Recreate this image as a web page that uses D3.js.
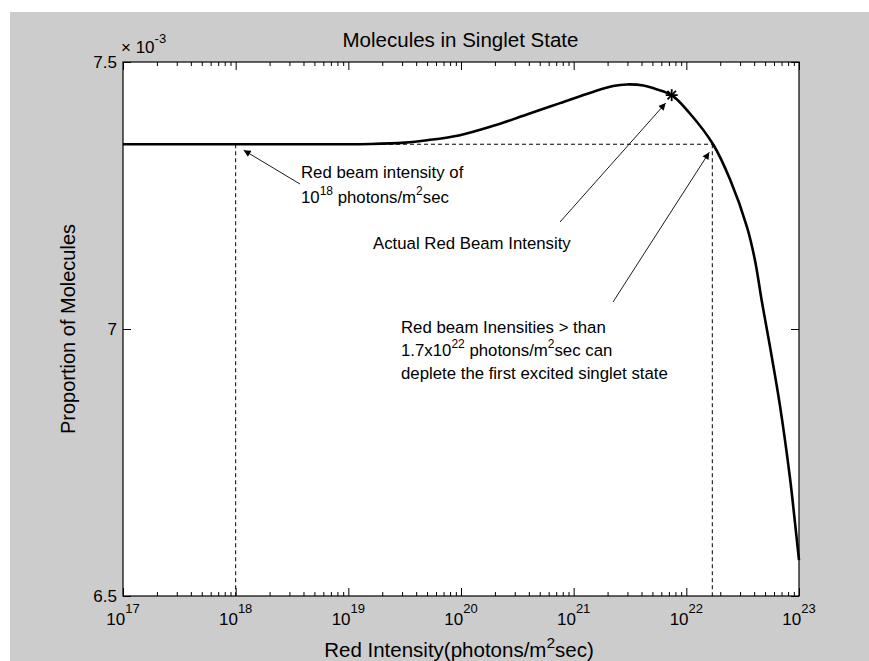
<!DOCTYPE html>
<html>
<head>
<meta charset="utf-8">
<script src="https://cdn.jsdelivr.net/npm/d3@7"></script>
<style>
  body { margin: 0; background: #fff; }
  svg text { font-family: "Liberation Sans", Arial, sans-serif; fill: #000; }
</style>
</head>
<body>
<div id="chart"></div>
<script>
// curve: log10 of red intensity vs proportion of molecules (x 10^-3)
var intensityExp = [17, 18, 18.6, 19.2, 19.5, 19.7, 19.99, 20.28, 20.59, 20.88, 21.17, 21.35, 21.47, 21.62, 21.72, 21.87, 22.03, 22.24, 22.39, 22.54, 22.61, 22.67, 22.74, 22.83, 22.92, 22.96, 23.0];
var proportion = [7.346, 7.346, 7.346, 7.3465, 7.349, 7.3535, 7.363, 7.380, 7.402, 7.423, 7.444, 7.455, 7.458, 7.456, 7.450, 7.438, 7.404, 7.345, 7.279, 7.190, 7.128, 7.052, 6.970, 6.858, 6.721, 6.646, 6.567];

var majorExps = [17, 18, 19, 20, 21, 22, 23];
var yTicks = [6.5, 7, 7.5];

// actual red beam intensity marker
var actualExp = 21.87, actualVal = 7.438;
// reference lines
var refLowExp = 18, refHighExp = Math.log10(1.7e22), refVal = 7.346;

var margin = {top: 62, right: 70, bottom: 65, left: 123},
    W = 869, H = 661,
    width = W - margin.left - margin.right,
    height = H - margin.top - margin.bottom;

var svg = d3.select("#chart").append("svg")
    .attr("width", W)
    .attr("height", H);

// figure background
svg.append("rect").attr("x", 10).attr("y", 12)
    .attr("width", W - 10).attr("height", H - 12)
    .attr("fill", "#cccccc");

var g = svg.append("g")
    .attr("transform", "translate(" + margin.left + "," + margin.top + ")");

g.append("rect").attr("width", width).attr("height", height).attr("fill", "#fff");

var x = d3.scaleLog().domain([1e17, 1e23]).range([0, width]);
var y = d3.scaleLinear().domain([6.5, 7.5]).range([height, 0]);

var allTicks = [];
majorExps.forEach(function (e) {
    allTicks.push(Math.pow(10, e));
    if (e < 23) for (var m = 2; m < 10; m++) allTicks.push(m * Math.pow(10, e));
});
var isMajor = function (v) { return Math.abs(Math.log10(v) - Math.round(Math.log10(v))) < 1e-9; };

var styleAxis = function (sel) {
    sel.select(".domain").remove();
    sel.selectAll("line").attr("stroke", "#000");
};

// x ticks bottom and top (inward)
g.append("g").attr("transform", "translate(0," + height + ")")
    .call(d3.axisBottom(x).tickValues(allTicks).tickFormat(""))
    .call(styleAxis)
    .selectAll(".tick line").attr("y2", function (d) { return isMajor(d) ? -8 : -4; });
g.append("g")
    .call(d3.axisTop(x).tickValues(allTicks).tickFormat(""))
    .call(styleAxis)
    .selectAll(".tick line").attr("y2", function (d) { return isMajor(d) ? 8 : 4; });

// y ticks left and right
g.append("g")
    .call(d3.axisLeft(y).tickValues(yTicks).tickSize(-8).tickPadding(6).tickFormat(d3.format("")))
    .call(styleAxis)
    .selectAll("text").attr("font-size", 17).attr("dy", "0.35em");
g.append("g").attr("transform", "translate(" + width + ",0)")
    .call(d3.axisRight(y).tickValues(yTicks).tickSize(-8).tickFormat(""))
    .call(styleAxis);

// box
g.append("rect").attr("width", width).attr("height", height)
    .attr("fill", "none").attr("stroke", "#000").attr("stroke-width", 1.2);

// x tick labels 10^n
majorExps.forEach(function (e) {
    var t = g.append("text")
        .attr("x", x(Math.pow(10, e)))
        .attr("y", height + 29)
        .attr("text-anchor", "middle")
        .attr("font-size", 17);
    t.append("tspan").text("10");
    t.append("tspan").attr("font-size", 13).attr("dy", -12).text(e);
});

// exponent multiplier
var mult = g.append("text").attr("x", -2).attr("y", -9).attr("font-size", 17);
mult.append("tspan").text("\u00d7 10");
mult.append("tspan").attr("font-size", 13).attr("dy", -10).text("-3");

// title
g.append("text").attr("x", 460.5 - 123).attr("y", -15)
    .attr("text-anchor", "middle").attr("font-size", 20.5)
    .text("Molecules in Singlet State");

// x label
var xl = g.append("text").attr("x", 459 - 123).attr("y", height + 61)
    .attr("text-anchor", "middle").attr("font-size", 20.5);
xl.append("tspan").text("Red Intensity(photons/m");
xl.append("tspan").attr("font-size", 15.5).attr("dy", -9).text("2");
xl.append("tspan").attr("dy", 9).text("sec)");

// y label
g.append("text")
    .attr("transform", "translate(-48," + (height / 2) + ") rotate(-90)")
    .attr("text-anchor", "middle").attr("font-size", 20)
    .text("Proportion of Molecules");

// dashed reference lines
var dash = "4,3";
g.append("line")
    .attr("x1", 0).attr("x2", x(Math.pow(10, refHighExp)))
    .attr("y1", y(refVal)).attr("y2", y(refVal))
    .attr("stroke", "#000").attr("stroke-dasharray", dash);
[refLowExp, refHighExp].forEach(function (e) {
    g.append("line")
        .attr("x1", x(Math.pow(10, e))).attr("x2", x(Math.pow(10, e)))
        .attr("y1", y(refVal)).attr("y2", height)
        .attr("stroke", "#000").attr("stroke-dasharray", dash);
});

// curve
var curveData = intensityExp.map(function (e, i) { return {x: Math.pow(10, e), v: proportion[i]}; });
g.append("path")
    .datum(curveData)
    .attr("fill", "none")
    .attr("stroke", "#000")
    .attr("stroke-width", 2.6)
    .attr("d", d3.line()
        .x(function (d) { return x(d.x); })
        .y(function (d) { return y(d.v); })
        .curve(d3.curveCatmullRom.alpha(0.5)));

// asterisk marker
var mx = x(Math.pow(10, actualExp)), my = y(actualVal), r = 6;
[0, 45, 90, 135].forEach(function (a) {
    var rad = a * Math.PI / 180;
    g.append("line")
        .attr("x1", mx - r * Math.cos(rad)).attr("y1", my - r * Math.sin(rad))
        .attr("x2", mx + r * Math.cos(rad)).attr("y2", my + r * Math.sin(rad))
        .attr("stroke", "#000").attr("stroke-width", 1.8);
});

// arrows
svg.append("defs").append("marker")
    .attr("id", "head")
    .attr("viewBox", "0 0 10 10")
    .attr("refX", 10).attr("refY", 5)
    .attr("markerWidth", 12).attr("markerHeight", 7)
    .attr("markerUnits", "userSpaceOnUse")
    .attr("orient", "auto")
    .append("path").attr("d", "M0,0L10,5L0,10Z").attr("fill", "#000");

var arrows = [
    {from: [300 - 123, 184 - 62], to: [x(1e18) + 8, y(refVal) + 6]},
    {from: [560 - 123, 222 - 62], to: [mx - 6, my + 8]},
    {from: [613 - 123, 302 - 62], to: [x(1.7e22) - 3, y(refVal) + 8]}
];
arrows.forEach(function (a) {
    g.append("line")
        .attr("x1", a.from[0]).attr("y1", a.from[1])
        .attr("x2", a.to[0]).attr("y2", a.to[1])
        .attr("stroke", "#000").attr("stroke-width", 0.9)
        .attr("marker-end", "url(#head)");
});

// annotation text
var note = function (tx, ty, parts) {
    var t = g.append("text").attr("x", tx).attr("y", ty).attr("font-size", 16.8);
    parts.forEach(function (p) {
        if (p.sup) t.append("tspan").attr("font-size", 12).attr("dy", -8).text(p.sup);
        else t.append("tspan").attr("dy", p.after ? 8 : 0).text(p.t);
    });
};
note(301 - 123, 178 - 62, [{t: "Red beam intensity of"}]);
note(301 - 123, 203 - 62, [{t: "10"}, {sup: "18"}, {t: " photons/m", after: true}, {sup: "2"}, {t: "sec", after: true}]);
note(373 - 123, 249 - 62, [{t: "Actual Red Beam Intensity"}]);
note(401 - 123, 333 - 62, [{t: "Red beam Inensities > than"}]);
note(401 - 123, 356 - 62, [{t: "1.7x10"}, {sup: "22"}, {t: " photons/m", after: true}, {sup: "2"}, {t: "sec can", after: true}]);
note(401 - 123, 379 - 62, [{t: "deplete the first excited singlet state"}]);
</script>
</body>
</html>
